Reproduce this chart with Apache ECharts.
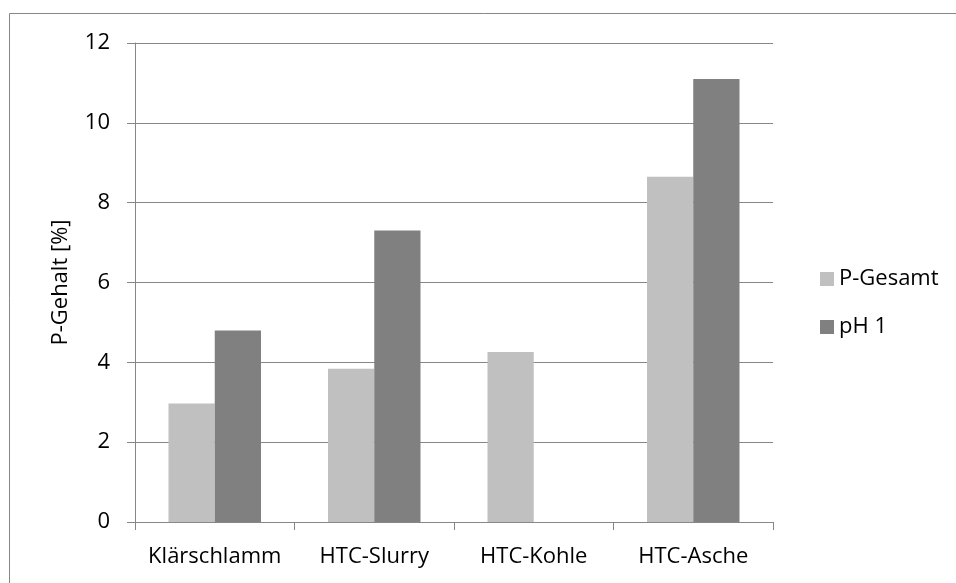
<!DOCTYPE html>
<html>
<head>
<meta charset="utf-8">
<script src="https://cdn.jsdelivr.net/npm/echarts@6/dist/echarts.min.js"></script>
<style>
  html, body { margin: 0; padding: 0; background: #fff; }
  #chart { width: 956px; height: 583px; }
</style>
</head>
<body>
<div id="chart"></div>
<script>
// Phosphorus content per sample type
const categories = ['Klärschlamm', 'HTC-Slurry', 'HTC-Kohle', 'HTC-Asche'];
const pGesamt = [2.97, 3.84, 4.26, 8.65];
const ph1 = [4.8, 7.3, 0, 11.1];
const yTicks = { min: 0, max: 12, interval: 2 };

const FONT = '"Open Sans", "Liberation Sans", sans-serif';
const FONT_SIZE = 22;
const AXIS_GREY = '#878787';

const chart = echarts.init(document.getElementById('chart'));
chart.setOption({
  animation: false,
  backgroundColor: '#ffffff',
  graphic: [{
    type: 'rect',
    shape: { x: 9.5, y: 13.5, width: 960, height: 600 },
    style: { fill: 'none', stroke: AXIS_GREY, lineWidth: 1 },
    silent: true
  }],
  grid: { left: 135, right: 183, top: 43, bottom: 61, containLabel: false },
  legend: {
    orient: 'vertical',
    left: 815,
    top: 263,
    itemWidth: 14,
    itemHeight: 14,
    itemGap: 26,
    icon: 'rect',
    textStyle: { fontFamily: FONT, fontSize: FONT_SIZE, color: '#000', padding: [0, 0, 0, 0] },
    data: ['P-Gesamt', 'pH 1']
  },
  xAxis: {
    type: 'category',
    data: categories,
    axisLine: { lineStyle: { color: AXIS_GREY, width: 1 } },
    axisTick: { show: true, length: 8, interval: 0, alignWithLabel: false, lineStyle: { color: AXIS_GREY } },
    axisLabel: { interval: 0, fontFamily: FONT, fontSize: FONT_SIZE, color: '#000', margin: 24 },
    splitLine: { show: false }
  },
  yAxis: {
    type: 'value',
    min: yTicks.min,
    max: yTicks.max,
    interval: yTicks.interval,
    name: 'P-Gehalt [%]',
    nameLocation: 'middle',
    nameGap: 63,
    nameTextStyle: { fontFamily: FONT, fontSize: FONT_SIZE, color: '#000' },
    axisLine: { show: true, lineStyle: { color: AXIS_GREY, width: 1 } },
    axisTick: { show: true, length: 8, lineStyle: { color: AXIS_GREY } },
    axisLabel: { fontFamily: FONT, fontSize: FONT_SIZE, color: '#000', margin: 25 },
    splitLine: { show: true, lineStyle: { color: AXIS_GREY, width: 1 } }
  },
  series: [
    {
      name: 'P-Gesamt',
      type: 'bar',
      data: pGesamt,
      barGap: '0%',
      barCategoryGap: '42%',
      itemStyle: { color: '#c0c0c0' }
    },
    {
      name: 'pH 1',
      type: 'bar',
      data: ph1,
      barGap: '0%',
      barCategoryGap: '42%',
      itemStyle: { color: '#808080' }
    }
  ]
});
</script>
</body>
</html>
